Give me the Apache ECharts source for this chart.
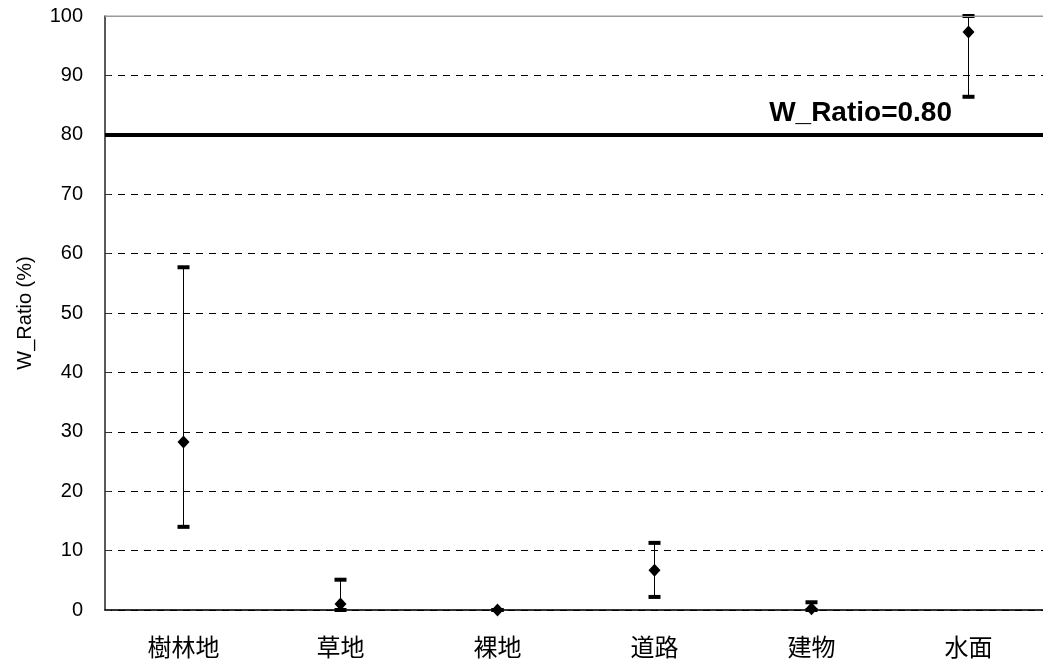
<!DOCTYPE html>
<html>
<head>
<meta charset="utf-8">
<script src="https://cdn.jsdelivr.net/npm/echarts@6/dist/echarts.min.js"></script>
<style>
  html, body { margin: 0; padding: 0; background: #fff; overflow: hidden; }
  #chart { width: 1047px; height: 662px; }
</style>
</head>
<body>
<div id="chart"></div>
<script>
// Land-cover classes and W_Ratio statistics (%)
const categories = ['樹林地', '草地', '裸地', '道路', '建物', '水面'];
const meanValues = [28.3, 1.0, 0.0, 6.7, 0.2, 97.3];
const lowValues  = [14.0, 0.0, 0.0, 2.2, 0.0, 86.4];
const highValues = [57.7, 5.1, 0.0, 11.3, 1.3, 100.0];
const thresholdValue = 80;
const thresholdLabel = 'W_Ratio=0.80';
const yTicks = { min: 0, max: 100, interval: 10 };

const chart = echarts.init(document.getElementById('chart'), null, { renderer: 'canvas' });

const errorData = categories.map((c, i) => [i, lowValues[i], highValues[i]]);

chart.setOption({
  animation: false,
  backgroundColor: '#ffffff',
  grid: {
    left: 105, right: 0, top: 16, bottom: 52,
    outerBoundsMode: 'none',
    containLabel: false,
    show: true, borderColor: '#9a9a9a', borderWidth: 1, backgroundColor: 'transparent'
  },
  xAxis: {
    type: 'category',
    data: categories,
    boundaryGap: true,
    axisLine: { lineStyle: { color: '#000', width: 1.5 } },
    axisTick: { inside: true, length: 8, lineStyle: { color: '#000', width: 1 } },
    axisLabel: {
      margin: 25, color: '#000', fontSize: 24,
      fontFamily: '"Noto Sans CJK JP", sans-serif'
    }
  },
  yAxis: {
    type: 'value',
    min: yTicks.min, max: yTicks.max, interval: yTicks.interval,
    name: 'W_Ratio (%)',
    nameLocation: 'middle',
    nameGap: 70,
    nameTextStyle: { color: '#000', fontSize: 20, fontFamily: '"Liberation Sans", Arial, sans-serif' },
    axisLine: { show: true, lineStyle: { color: '#333', width: 1.5 } },
    axisTick: { show: true, inside: true, length: 6, lineStyle: { color: '#333' } },
    axisLabel: {
      margin: 22, color: '#000', fontSize: 20,
      fontFamily: '"Liberation Sans", Arial, sans-serif'
    },
    splitLine: { show: true, lineStyle: { color: '#000', type: [7, 6], width: 1 } }
  },
  series: [
    {
      // error bars: vertical whisker with thick caps
      type: 'custom',
      data: errorData,
      z: 3,
      renderItem: function (params, api) {
        const x = api.value(0);
        const lo = api.coord([x, api.value(1)]);
        const hi = api.coord([x, api.value(2)]);
        const capW = 12, capH = 4;
        return {
          type: 'group',
          children: [
            { type: 'line', shape: { x1: lo[0], y1: lo[1], x2: hi[0], y2: hi[1] },
              style: { stroke: '#000', lineWidth: 1 } },
            { type: 'rect', shape: { x: hi[0] - capW / 2, y: hi[1] - capH / 2, width: capW, height: capH },
              style: { fill: '#000' } },
            { type: 'rect', shape: { x: lo[0] - capW / 2, y: lo[1] - capH / 2, width: capW, height: capH },
              style: { fill: '#000' } }
          ]
        };
      }
    },
    {
      type: 'scatter',
      data: meanValues,
      symbol: 'diamond',
      symbolSize: [12, 13],
      itemStyle: { color: '#000', opacity: 1 },
      z: 4,
      markLine: {
        silent: true,
        symbol: 'none',
        data: [
          {
            yAxis: thresholdValue,
            lineStyle: { color: '#000', width: 4, type: 'solid' },
            label: {
              show: true,
              formatter: thresholdLabel,
              position: 'insideEndTop',
              distance: [95, 8],
              color: '#000',
              fontSize: 28,
              fontWeight: 'bold',
              fontFamily: '"Liberation Sans", Arial, sans-serif'
            }
          },
          {
            // solid top frame line over the last gridline
            yAxis: yTicks.max,
            lineStyle: { color: '#9a9a9a', width: 1, type: 'solid' },
            label: { show: false }
          }
        ]
      }
    }
  ]
});
</script>
</body>
</html>
